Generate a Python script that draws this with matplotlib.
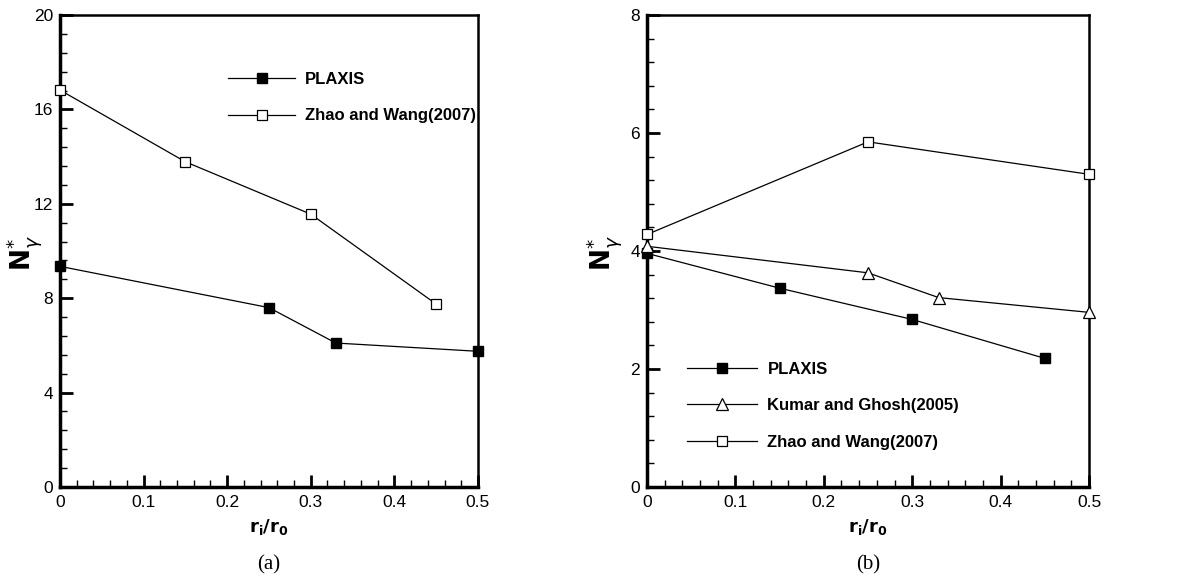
import matplotlib
matplotlib.use('Agg')
import matplotlib.pyplot as plt
from matplotlib.ticker import MultipleLocator

plt.rcParams['font.family'] = ['Liberation Sans', 'DejaVu Sans']

# panel (a) data
xa_plaxis = [0, 0.25, 0.33, 0.5]
ya_plaxis = [9.35, 7.6, 6.1, 5.75]
xa_zhao = [0, 0.15, 0.3, 0.45]
ya_zhao = [16.82, 13.78, 11.56, 7.75]

# panel (b) data
xb_plaxis = [0, 0.15, 0.3, 0.45]
yb_plaxis = [3.96, 3.37, 2.84, 2.18]
xb_kumar = [0, 0.25, 0.33, 0.5]
yb_kumar = [4.08, 3.63, 3.21, 2.96]
xb_zhao = [0, 0.25, 0.5]
yb_zhao = [4.28, 5.85, 5.3]

fig = plt.figure(figsize=(11.92, 5.79), dpi=100)
ax1 = fig.add_axes([0.0503, 0.1589, 0.3507, 0.8152])
ax2 = fig.add_axes([0.5428, 0.1589, 0.3708, 0.8152])


def style_axes(ax, ymax, ymajor, yminor):
    ax.set_xlim(0, 0.5)
    ax.set_ylim(0, ymax)
    ax.xaxis.set_major_locator(MultipleLocator(0.1))
    ax.xaxis.set_minor_locator(MultipleLocator(0.02))
    ax.yaxis.set_major_locator(MultipleLocator(ymajor))
    ax.yaxis.set_minor_locator(MultipleLocator(yminor))
    ax.tick_params(which='major', direction='in', length=9, width=2,
                   labelsize=12.5)
    ax.tick_params(axis='x', which='major', pad=6)
    ax.tick_params(axis='y', which='major', pad=5)
    ax.tick_params(which='minor', direction='in', length=5, width=1)
    ax.xaxis.set_major_formatter(plt.FuncFormatter(lambda v, p: '%g' % v))
    for s in ['left', 'bottom']:
        ax.spines[s].set_linewidth(2.5)
    for s in ['top', 'right']:
        ax.spines[s].set_linewidth(1.8)
    ax.set_xlabel(r'$\mathbf{r_i/r_0}$', fontsize=13, labelpad=5)


mk = dict(color='black', lw=0.9, clip_on=False, zorder=3)

ax1.plot(xa_plaxis, ya_plaxis, marker='s', ms=7.5, mfc='black', mec='black',
         label='PLAXIS', **mk)
ax1.plot(xa_zhao, ya_zhao, marker='s', ms=7.5, mfc='white', mec='black',
         mew=0.9, label='Zhao and Wang(2007)', **mk)
style_axes(ax1, 20, 4, 0.8)
ax1.legend(loc='upper left', bbox_to_anchor=(0.3865, 0.894), frameon=False,
           prop={'weight': 'bold', 'size': 12}, handlelength=4.0,
           labelspacing=1.3, handletextpad=0.6, borderaxespad=0)

ax2.plot(xb_plaxis, yb_plaxis, marker='s', ms=7.5, mfc='black', mec='black',
         label='PLAXIS', **mk)
ax2.plot(xb_kumar, yb_kumar, marker='^', ms=9, mfc='white', mec='black',
         mew=0.9, label='Kumar and Ghosh(2005)', **mk)
ax2.plot(xb_zhao, yb_zhao, marker='s', ms=7.5, mfc='white', mec='black',
         mew=0.9, label='Zhao and Wang(2007)', **mk)
style_axes(ax2, 8, 2, 0.4)
ax2.legend(loc='upper left', bbox_to_anchor=(0.0764, 0.28), frameon=False,
           prop={'weight': 'bold', 'size': 12}, handlelength=4.2,
           labelspacing=1.3, handletextpad=0.6, borderaxespad=0)

# y labels
ylab = r'$\mathbf{N}^{*}_{\gamma}$'
fig.text(24 / 1192, 1 - 253 / 579, ylab, rotation=90, fontsize=19,
         ha='center', va='center')
fig.text(604 / 1192, 1 - 253 / 579, ylab, rotation=90, fontsize=19,
         ha='center', va='center')

fig.text(0.2257, 1 - 565 / 579, '(a)', family='Liberation Serif',
         fontsize=15, ha='center', va='center')
fig.text(0.728, 1 - 565 / 579, '(b)', family='Liberation Serif',
         fontsize=15, ha='center', va='center')

fig.savefig('out.png', dpi=100)
